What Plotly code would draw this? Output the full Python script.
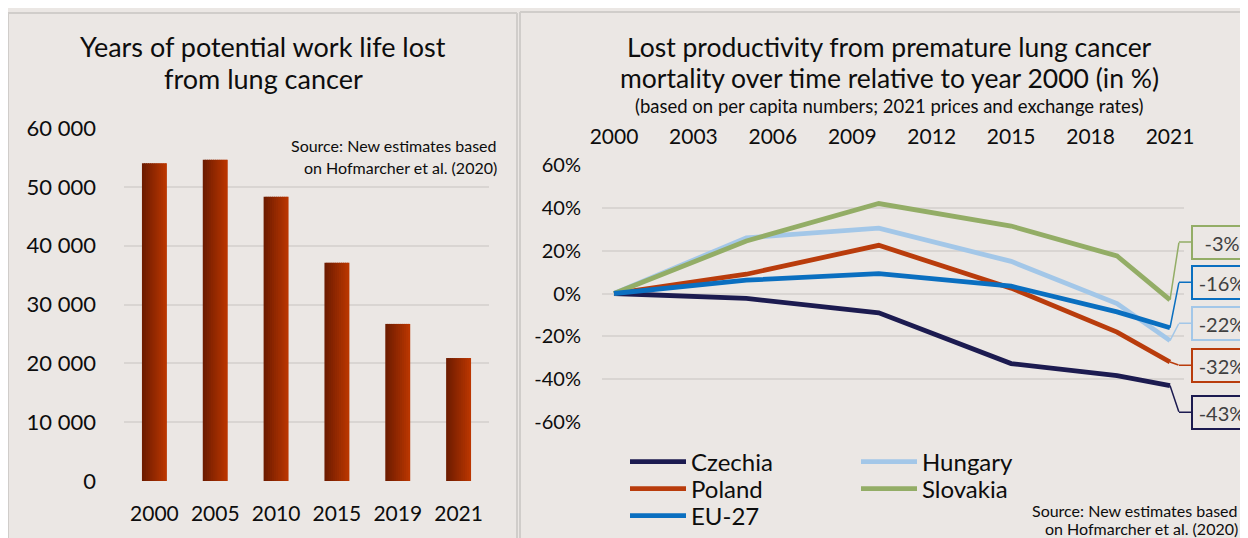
import plotly.graph_objects as go

# The page body has an 8px margin, so the figure is drawn 8px in from the window corner.
OFF = 8
W, H = 1248 - OFF, 538 - OFF
FONT = "Lato"
BG = "#ebe7e4"
GRID = "#d9d5d2"
TXT = "#0d0d0d"

# ---------------- data ----------------
bar_years = ["2000", "2005", "2010", "2015", "2019", "2021"]
ypwll = [54000, 54600, 48300, 37100, 26700, 20900]
bar_tickvals = [0, 10000, 20000, 30000, 40000, 50000, 60000]
bar_ticktext = ["0", "10 000", "20 000", "30 000", "40 000", "50 000", "60 000"]

line_years = [2000, 2005, 2010, 2015, 2019, 2021]
czechia = [0, -2.3, -9, -32.7, -38.3, -43]
hungary = [0, 26, 30.5, 15, -4.7, -22]
poland = [0, 9, 22.5, 2.5, -18, -32]
slovakia = [0, 24.5, 42, 31.5, 17.5, -3]
eu27 = [0, 6.2, 9.3, 3.4, -8.6, -16]
line_tickvals_x = [2000, 2003, 2006, 2009, 2012, 2015, 2018, 2021]
pct_tickvals = [-60, -40, -20, 0, 20, 40, 60]
pct_ticktext = [f"{v}%" for v in pct_tickvals]

series = [
    ("Czechia", czechia, "#1c1b50", "legend"),
    ("Hungary", hungary, "#a3c7e8", "legend"),
    ("Poland", poland, "#b93c0c", "legend2"),
    ("Slovakia", slovakia, "#93ad66", "legend2"),
    ("EU-27", eu27, "#0a6fc0", "legend3"),
]
# end-label box vertical positions (layout, in y-axis units) by series
label_pos = {"Slovakia": 24, "EU-27": 5.3, "Hungary": -13.9, "Poland": -33.5, "Czechia": -55.5}


def px(x):
    return (x - OFF) / W


def py(y):
    return 1 - (y - OFF) / H


def mix(c1, c2, t):
    a = [int(c1[i:i + 2], 16) for i in (1, 3, 5)]
    b = [int(c2[i:i + 2], 16) for i in (1, 3, 5)]
    return "#" + "".join(f"{round(a[k] + (b[k] - a[k]) * t):02x}" for k in range(3))


fig = go.Figure()

# ---------------- bar chart (gradient via slices) ----------------
BW = 0.41
N = 12
step = BW / N
for i in range(N):
    w = step * 1.4 if i < N - 1 else step
    fig.add_trace(go.Bar(
        x=bar_years, y=ypwll, xaxis="x", yaxis="y",
        width=w, offset=-BW / 2 + i * step,
        marker=dict(color=mix("#6e1c00", "#ba3600", i / (N - 1)), line=dict(width=0)),
        showlegend=False, hoverinfo="skip" if i else "x+y",
    ))

# ---------------- line chart ----------------
for name, vals, col, lg in series:
    fig.add_trace(go.Scatter(
        x=line_years, y=vals, xaxis="x2", yaxis="y2", mode="lines", name=name,
        line=dict(color=col, width=4.8), legend=lg,
    ))

annotations = []
for name, vals, col, lg in series:
    ly = label_pos[name]
    v = vals[-1]
    # connector from data point to elbow
    annotations.append(dict(
        xref="x2", yref="y2", x=line_years[-1], y=v, text="", showarrow=True,
        axref="pixel", ax=9, ayref="y2", ay=ly, arrowhead=0, arrowwidth=1.5,
        arrowcolor=col, borderpad=0, font=dict(size=1), standoff=0, startstandoff=0,
    ))
    # label box with horizontal connector
    annotations.append(dict(
        xref="x2", yref="y2", x=line_years[-1], y=ly, xshift=9,
        text=f"{round(v)}%", showarrow=True, axref="pixel", ax=43, ayref="pixel", ay=0,
        arrowhead=0, arrowwidth=1.5, arrowcolor=col, standoff=0,
        bordercolor=col, borderwidth=2, borderpad=3, bgcolor=BG,
        width=52, height=25, align="center",
        font=dict(family=FONT, size=20, color="#404040"),
    ))


def txt(x, y, s, size, anchor="center"):
    return dict(xref="paper", yref="paper", x=px(x), y=py(y), xanchor=anchor, yanchor="middle",
                text=s, showarrow=False, font=dict(family=FONT, size=size, color=TXT))


# titles and sources
annotations += [
    txt(263, 47, "Years of potential work life lost", 27),
    txt(263, 79, "from lung cancer", 27),
    txt(499, 145, "Source: New estimates based", 16, "right"),
    txt(499, 168, "on Hofmarcher et al. (2020)", 16, "right"),
    txt(889, 47, "Lost productivity from premature lung cancer", 26.5),
    txt(889, 78, "mortality over time relative to year 2000 (in %)", 26.5),
    txt(889, 105.5, "(based on per capita numbers; 2021 prices and exchange rates)", 18.5),
    txt(1240, 510, "Source: New estimates based", 16, "right"),
    txt(1240, 528.5, "on Hofmarcher et al. (2020)", 16, "right"),
]

# panel borders
BORDER = "#d0cdca"
shapes = [
    dict(type="line", xref="paper", yref="paper", x0=px(8), x1=px(8), y0=py(13), y1=py(545),
         line=dict(color=BORDER, width=2)),
    dict(type="line", xref="paper", yref="paper", x0=px(8), x1=px(517), y0=py(13), y1=py(13),
         line=dict(color=BORDER, width=2)),
    dict(type="line", xref="paper", yref="paper", x0=px(517), x1=px(517), y0=py(13), y1=py(545),
         line=dict(color=BORDER, width=2)),
    dict(type="line", xref="paper", yref="paper", x0=px(520), x1=px(520), y0=py(12), y1=py(545),
         line=dict(color=BORDER, width=2)),
    dict(type="line", xref="paper", yref="paper", x0=px(520), x1=px(1260), y0=py(12), y1=py(12),
         line=dict(color=BORDER, width=2)),
]

legend_common = dict(
    orientation="h", xanchor="left", yanchor="middle", entrywidth=160, entrywidthmode="pixels",
    itemwidth=56, font=dict(family=FONT, size=24, color=TXT), bgcolor="rgba(0,0,0,0)",
    borderwidth=0, traceorder="normal",
)

fig.update_layout(
    width=W, height=H, margin=dict(l=0, r=0, t=0, b=0, autoexpand=False),
    paper_bgcolor=BG, plot_bgcolor=BG, barmode="overlay",
    font=dict(family=FONT, color=TXT),
    xaxis=dict(domain=[px(124), px(489)], anchor="y", type="category", range=[-0.5, 5.5],
               showgrid=False, showline=False, zeroline=False, ticks="",
               tickfont=dict(size=21, family=FONT, color=TXT), ticklabelstandoff=18, fixedrange=True),
    yaxis=dict(domain=[py(481), py(128)], anchor="x", range=[0, 60000], tickvals=bar_tickvals,
               ticktext=bar_ticktext, showgrid=True, gridcolor=GRID, gridwidth=1.5, zeroline=False,
               showline=False, ticks="", tickfont=dict(size=22, family=FONT, color=TXT),
               ticklabelstandoff=27, fixedrange=True),
    xaxis2=dict(domain=[px(602), px(1184)], anchor="y2", side="top", range=[1999.547, 2021.529],
                tickvals=line_tickvals_x, showgrid=False, showline=False, zeroline=False, ticks="",
                tickfont=dict(size=21, family=FONT, color=TXT), ticklabelstandoff=16, fixedrange=True),
    yaxis2=dict(domain=[py(422), py(165)], anchor="x2", range=[-60, 60], tickvals=pct_tickvals,
                ticktext=pct_ticktext, showgrid=True, gridcolor=GRID, gridwidth=1.5, zeroline=False,
                showline=False, ticks="", tickfont=dict(size=20, family=FONT, color=TXT),
                ticklabelstandoff=20, fixedrange=True),
    legend=dict(legend_common, x=px(625), y=py(462)),
    legend2=dict(legend_common, x=px(625), y=py(489)),
    legend3=dict(legend_common, x=px(625), y=py(516)),
    annotations=annotations, shapes=shapes,
)

fig.write_html("out.html")
